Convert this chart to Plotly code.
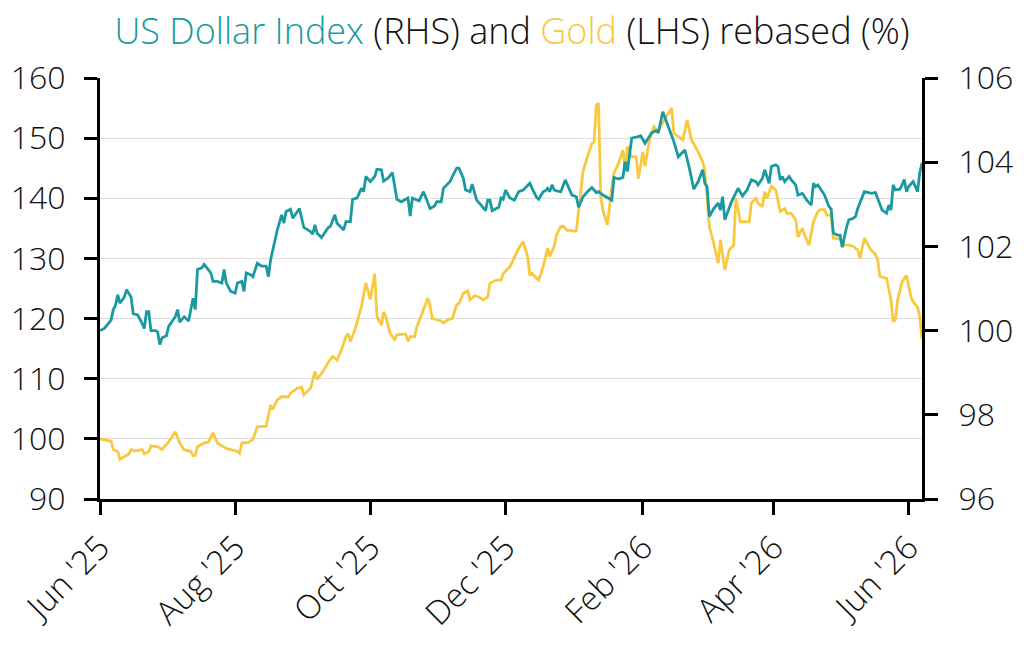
import plotly.graph_objects as go

TEAL = "#1a9aa0"
GOLD = "#f8c93f"

# ---------------- data ----------------
gold_dates = [
    "2025-06-01", "2025-06-05", "2025-06-06", "2025-06-07", "2025-06-09", "2025-06-10", "2025-06-12", "2025-06-14",
    "2025-06-15", "2025-06-17", "2025-06-20", "2025-06-21", "2025-06-23", "2025-06-24", "2025-06-27", "2025-06-29", "2025-06-30",
    "2025-07-02", "2025-07-05", "2025-07-07", "2025-07-09", "2025-07-12", "2025-07-13", "2025-07-14", "2025-07-15",
    "2025-07-18", "2025-07-20", "2025-07-22", "2025-07-24", "2025-07-27", "2025-07-28", "2025-07-30",
    "2025-08-02", "2025-08-03", "2025-08-04", "2025-08-07", "2025-08-09", "2025-08-11", "2025-08-14", "2025-08-15",
    "2025-08-17", "2025-08-18", "2025-08-20", "2025-08-22", "2025-08-25", "2025-08-26", "2025-08-29", "2025-08-31",
    "2025-09-01", "2025-09-04", "2025-09-06", "2025-09-07", "2025-09-10", "2025-09-12", "2025-09-14", "2025-09-16",
    "2025-09-18", "2025-09-20", "2025-09-21", "2025-09-22", "2025-09-24", "2025-09-27", "2025-09-29",
    "2025-10-01", "2025-10-03", "2025-10-04", "2025-10-06", "2025-10-07", "2025-10-08", "2025-10-10", "2025-10-12",
    "2025-10-13", "2025-10-16", "2025-10-17", "2025-10-18", "2025-10-19", "2025-10-21", "2025-10-22", "2025-10-24",
    "2025-10-25", "2025-10-27", "2025-10-28", "2025-10-29", "2025-10-31",
    "2025-11-02", "2025-11-03", "2025-11-05", "2025-11-07", "2025-11-09", "2025-11-10", "2025-11-12", "2025-11-14",
    "2025-11-15", "2025-11-17", "2025-11-19", "2025-11-21", "2025-11-23", "2025-11-24", "2025-11-27", "2025-11-29", "2025-11-30",
    "2025-12-03", "2025-12-05", "2025-12-07", "2025-12-09", "2025-12-11", "2025-12-12", "2025-12-13", "2025-12-15",
    "2025-12-16", "2025-12-18", "2025-12-20", "2025-12-21", "2025-12-23", "2025-12-24", "2025-12-26", "2025-12-27",
    "2025-12-29", "2025-12-30",
    "2026-01-01", "2026-01-02", "2026-01-03", "2026-01-05", "2026-01-07", "2026-01-09", "2026-01-10", "2026-01-11",
    "2026-01-12", "2026-01-13", "2026-01-14", "2026-01-16", "2026-01-18", "2026-01-19", "2026-01-21", "2026-01-22",
    "2026-01-23", "2026-01-24", "2026-01-25", "2026-01-27", "2026-01-29", "2026-01-30",
    "2026-02-01", "2026-02-02", "2026-02-04", "2026-02-06", "2026-02-08", "2026-02-09", "2026-02-11", "2026-02-13",
    "2026-02-14", "2026-02-15", "2026-02-17", "2026-02-19", "2026-02-21", "2026-02-23", "2026-02-26", "2026-02-28",
    "2026-03-01", "2026-03-03", "2026-03-05", "2026-03-07", "2026-03-08", "2026-03-10", "2026-03-12", "2026-03-14",
    "2026-03-15", "2026-03-17", "2026-03-21", "2026-03-22", "2026-03-24", "2026-03-25", "2026-03-27", "2026-03-28",
    "2026-03-29", "2026-03-31",
    "2026-04-02", "2026-04-03", "2026-04-04", "2026-04-06", "2026-04-07", "2026-04-09", "2026-04-11", "2026-04-12",
    "2026-04-14", "2026-04-15", "2026-04-17", "2026-04-19", "2026-04-21", "2026-04-22", "2026-04-24", "2026-04-25",
    "2026-04-27", "2026-04-28", "2026-04-30",
    "2026-05-01", "2026-05-03", "2026-05-05", "2026-05-07", "2026-05-09", "2026-05-10", "2026-05-12", "2026-05-14",
    "2026-05-15", "2026-05-17", "2026-05-18", "2026-05-19", "2026-05-22", "2026-05-24", "2026-05-25", "2026-05-26",
    "2026-05-27", "2026-05-29", "2026-05-31",
    "2026-06-02", "2026-06-03", "2026-06-05", "2026-06-06", "2026-06-07",
]
gold_values = [
    100.0, 99.6, 99.6, 98.2, 97.9, 96.6, 97.0, 97.5, 98.2, 98.0, 98.2, 97.5, 97.9, 98.8, 98.7, 98.2, 98.7,
    99.5, 101.2, 99.3, 98.2, 97.9, 97.2, 97.3, 98.7, 99.3, 99.5, 101.0, 99.3, 98.6, 98.4, 98.2,
    97.9, 97.6, 99.3, 99.4, 99.9, 102.0, 102.1, 102.1, 105.6, 104.9, 106.5, 107.0, 107.0, 107.6, 108.4, 108.6,
    107.3, 108.4, 111.2, 109.9, 111.4, 112.7, 113.7, 113.1, 114.8, 117.0, 117.5, 116.2, 118.1, 122.0, 125.9,
    123.2, 127.5, 120.3, 118.9, 121.1, 120.3, 117.5, 116.5, 117.3, 117.4, 117.4, 116.2, 117.0, 117.0, 118.6, 120.5,
    121.4, 123.4, 122.0, 120.0, 119.8,
    119.6, 119.3, 119.8, 120.0, 122.3, 122.5, 124.2, 124.6, 123.1, 123.8, 123.6, 123.1, 123.6, 125.9, 126.4, 126.4, 127.5,
    128.6, 130.3, 131.7, 132.8, 130.3, 127.2, 127.5, 126.7, 126.4, 128.6, 131.7, 130.3, 132.0, 133.9, 135.3, 135.4,
    134.6, 134.7,
    134.5, 134.6, 138.3, 144.5, 146.9, 149.1, 149.4, 155.5, 155.8, 140.3, 138.0, 135.6, 141.9, 144.2, 145.8, 146.9,
    148.0, 144.7, 148.6, 146.9, 146.9, 143.3,
    147.7, 145.3, 149.7, 151.9, 151.1, 151.9, 153.3, 154.4, 155.0, 150.8, 150.2, 149.7, 153.0, 149.7, 147.7, 146.1,
    144.7, 135.3, 132.5, 129.2, 133.1, 128.1, 131.4, 132.2, 140.0, 136.1, 136.1, 139.2, 140.0, 139.2, 138.6, 141.1,
    140.0, 142.0,
    141.4, 139.7, 137.8, 138.3, 137.5, 137.5, 136.4, 133.6, 135.0, 133.9, 132.2, 136.1, 137.8, 138.1, 138.1, 137.2,
    137.2, 133.4, 133.2,
    133.2, 132.2, 132.2, 132.0, 131.4, 130.0, 133.4, 132.0, 131.4, 130.7, 129.7, 127.0, 126.7, 123.1, 119.5, 119.8,
    123.1, 126.1, 127.2,
    123.6, 122.8, 121.9, 120.3, 116.6,
]

usd_dates = [
    "2025-06-01", "2025-06-03", "2025-06-06", "2025-06-07", "2025-06-08", "2025-06-09", "2025-06-10", "2025-06-12",
    "2025-06-13", "2025-06-15", "2025-06-16", "2025-06-18", "2025-06-20", "2025-06-21", "2025-06-22", "2025-06-23",
    "2025-06-24", "2025-06-26", "2025-06-27", "2025-06-28", "2025-06-29",
    "2025-07-01", "2025-07-02", "2025-07-05", "2025-07-06", "2025-07-07", "2025-07-09", "2025-07-11", "2025-07-12",
    "2025-07-13", "2025-07-14", "2025-07-15", "2025-07-17", "2025-07-18", "2025-07-21", "2025-07-22", "2025-07-24",
    "2025-07-26", "2025-07-27", "2025-07-28", "2025-07-30",
    "2025-08-01", "2025-08-02", "2025-08-04", "2025-08-05", "2025-08-06", "2025-08-08", "2025-08-09", "2025-08-11",
    "2025-08-13", "2025-08-15", "2025-08-16", "2025-08-17", "2025-08-20", "2025-08-22", "2025-08-23", "2025-08-24",
    "2025-08-26", "2025-08-27", "2025-08-29", "2025-08-30",
    "2025-09-01", "2025-09-04", "2025-09-05", "2025-09-06", "2025-09-07", "2025-09-09", "2025-09-12", "2025-09-13",
    "2025-09-15", "2025-09-16", "2025-09-19", "2025-09-20", "2025-09-22", "2025-09-23", "2025-09-25", "2025-09-27",
    "2025-09-28", "2025-09-29",
    "2025-10-01", "2025-10-03", "2025-10-04", "2025-10-06", "2025-10-07", "2025-10-09", "2025-10-11", "2025-10-13",
    "2025-10-15", "2025-10-18", "2025-10-19", "2025-10-20", "2025-10-23", "2025-10-25", "2025-10-28", "2025-10-30",
    "2025-10-31",
    "2025-11-02", "2025-11-03", "2025-11-06", "2025-11-07", "2025-11-09", "2025-11-10", "2025-11-12", "2025-11-13",
    "2025-11-15", "2025-11-16", "2025-11-18", "2025-11-20", "2025-11-22", "2025-11-23", "2025-11-24", "2025-11-25",
    "2025-11-28", "2025-11-29", "2025-11-30",
    "2025-12-01", "2025-12-03", "2025-12-05", "2025-12-07", "2025-12-09", "2025-12-12", "2025-12-13", "2025-12-15",
    "2025-12-16", "2025-12-18", "2025-12-19", "2025-12-20", "2025-12-21", "2025-12-22", "2025-12-23", "2025-12-24",
    "2025-12-26", "2025-12-28", "2025-12-31",
    "2026-01-02", "2026-01-03", "2026-01-05", "2026-01-07", "2026-01-09", "2026-01-11", "2026-01-12", "2026-01-14",
    "2026-01-16", "2026-01-18", "2026-01-19", "2026-01-21", "2026-01-23", "2026-01-24", "2026-01-25", "2026-01-26",
    "2026-01-27", "2026-01-30", "2026-01-31",
    "2026-02-02", "2026-02-03", "2026-02-05", "2026-02-07", "2026-02-08", "2026-02-10", "2026-02-13", "2026-02-15",
    "2026-02-17", "2026-02-20", "2026-02-22", "2026-02-24", "2026-02-26", "2026-02-28",
    "2026-03-01", "2026-03-02", "2026-03-03", "2026-03-05", "2026-03-07", "2026-03-08", "2026-03-09", "2026-03-10",
    "2026-03-13", "2026-03-15", "2026-03-16", "2026-03-18", "2026-03-20", "2026-03-22", "2026-03-24", "2026-03-25",
    "2026-03-27", "2026-03-28", "2026-03-30", "2026-03-31",
    "2026-04-02", "2026-04-03", "2026-04-04", "2026-04-05", "2026-04-06", "2026-04-08", "2026-04-09", "2026-04-11",
    "2026-04-12", "2026-04-14", "2026-04-16", "2026-04-18", "2026-04-19", "2026-04-20", "2026-04-21", "2026-04-22",
    "2026-04-24", "2026-04-26", "2026-04-27", "2026-04-28", "2026-04-30",
    "2026-05-01", "2026-05-02", "2026-05-04", "2026-05-05", "2026-05-07", "2026-05-08", "2026-05-09", "2026-05-10",
    "2026-05-12", "2026-05-14", "2026-05-15", "2026-05-17", "2026-05-18", "2026-05-19", "2026-05-20", "2026-05-22",
    "2026-05-23", "2026-05-24", "2026-05-25", "2026-05-26", "2026-05-28", "2026-05-29", "2026-05-30", "2026-05-31",
    "2026-06-01", "2026-06-03", "2026-06-04", "2026-06-05", "2026-06-06", "2026-06-07",
]
usd_values = [
    100.0, 100.05, 100.25, 100.5, 100.6, 100.85, 100.65, 100.8, 100.97, 100.8, 100.4, 100.37, 100.17, 100.05, 100.45, 100.45,
    100.0, 100.0, 99.97, 99.67, 99.83,
    99.88, 100.1, 100.33, 100.5, 100.2, 100.33, 100.23, 100.5, 100.77, 100.5, 101.45, 101.49, 101.57, 101.37, 101.17, 101.17,
    101.13, 101.45, 101.13, 100.93,
    100.89, 101.13, 101.17, 100.93, 101.37, 101.33, 101.28, 101.6, 101.53, 101.53, 101.28, 101.68, 102.39, 102.75, 102.55, 102.83,
    102.88, 102.67, 102.83, 102.9,
    102.45, 102.35, 102.29, 102.51, 102.31, 102.21, 102.45, 102.48, 102.75, 102.55, 102.39, 102.59, 102.59, 103.12, 103.15, 103.38,
    103.3, 103.66,
    103.54, 103.66, 103.83, 103.82, 103.55, 103.62, 103.75, 103.12, 103.06, 103.15, 102.72, 103.15, 103.08, 103.3, 102.9, 102.96,
    103.06,
    103.06, 103.38, 103.54, 103.66, 103.86, 103.86, 103.62, 103.34, 103.3, 103.48, 103.1, 102.98, 102.85, 103.1, 103.1, 102.85,
    102.93, 103.15, 103.12,
    103.34, 103.15, 103.1, 103.3, 103.34, 103.5, 103.38, 103.17, 103.12, 103.3, 103.32, 103.38, 103.3, 103.46, 103.34, 103.32,
    103.3, 103.58, 103.22,
    103.18, 102.93, 103.18, 103.3, 103.4, 103.28, 103.3, 103.22, 103.15, 103.1, 103.64, 103.6, 103.64, 104.01, 103.78, 104.25,
    104.57, 104.61, 104.63,
    104.45, 104.53, 104.7, 104.75, 104.7, 105.2, 104.8, 104.49, 104.13, 104.29, 103.86, 103.36, 103.54, 103.82,
    103.5, 103.42, 102.71, 102.9, 103.03, 102.86, 103.18, 102.63, 103.06, 103.26, 103.38, 103.2, 103.34, 103.58, 103.54, 103.46,
    103.62, 103.82, 103.5, 103.9,
    103.94, 103.9, 103.58, 103.66, 103.54, 103.66, 103.58, 103.46, 103.22, 103.26, 103.1, 102.98, 103.5, 103.42, 103.46, 103.38,
    103.22, 102.95, 102.88, 102.31, 102.27,
    102.27, 101.98, 102.47, 102.63, 102.67, 102.71, 102.9, 103.03, 103.3, 103.28, 103.26, 103.28, 103.15, 103.03, 102.86, 102.79,
    102.98, 102.86, 103.46, 103.34, 103.36, 103.46, 103.59, 103.3,
    103.42, 103.54, 103.42, 103.3, 103.75, 103.98,
]

x_tick_dates = ["2025-06-01", "2025-08-01", "2025-10-01", "2025-12-01", "2026-02-01", "2026-04-01", "2026-06-01"]
x_tick_labels = ["Jun '25", "Aug '25", "Oct '25", "Dec '25", "Feb '26", "Apr '26", "Jun '26"]
x_range = ["2025-06-01", "2026-06-07"]
left_ticks = [90, 100, 110, 120, 130, 140, 150, 160]
right_ticks = [96, 98, 100, 102, 104, 106]

# ---------------- figure ----------------
FONT = "Open Sans"
TXT = "#111111"

fig = go.Figure()
fig.add_trace(go.Scatter(
    x=gold_dates, y=gold_values, mode="lines", name="Gold (LHS)",
    line=dict(color=GOLD, width=2.8), yaxis="y",
))
fig.add_trace(go.Scatter(
    x=usd_dates, y=usd_values, mode="lines", name="US Dollar Index (RHS)",
    line=dict(color=TEAL, width=2.8), yaxis="y2",
))

axis_common = dict(
    showline=True, linecolor="black", linewidth=3,
    ticks="outside", ticklen=13, tickwidth=3, tickcolor="black",
    zeroline=False, automargin=False,
)

fig.update_layout(
    width=1024, height=645,
    margin=dict(l=100, r=102, t=78, b=146),
    paper_bgcolor="white", plot_bgcolor="white",
    showlegend=False,
    title=dict(
        text=(f"<span style='color:{TEAL}'>US Dollar Index</span> (RHS) and "
              f"<span style='color:{GOLD}'>Gold</span> (LHS) rebased (%)"),
        x=0.5, xanchor="center", y=0.952, yanchor="middle",
        font=dict(family=FONT, size=36, color=TXT, weight=300),
    ),
    xaxis=dict(
        type="date", range=x_range,
        tickmode="array", tickvals=x_tick_dates, ticktext=x_tick_labels,
        tickangle=-45, showgrid=False,
        tickfont=dict(family=FONT, size=33, color=TXT, weight=300),
        **axis_common,
    ),
    yaxis=dict(
        range=[90, 160], tickmode="array", tickvals=left_ticks,
        showgrid=True, gridcolor="#dddddd", gridwidth=1,
        ticklabelstandoff=12,
        tickfont=dict(family=FONT, size=32, color=TXT, weight=300),
        **axis_common,
    ),
    yaxis2=dict(
        range=[96, 106], tickmode="array", tickvals=right_ticks,
        overlaying="y", side="right", showgrid=False,
        ticklabelstandoff=14,
        tickfont=dict(family=FONT, size=32, color=TXT, weight=300),
        **axis_common,
    ),
)

fig.write_html("out.html")
